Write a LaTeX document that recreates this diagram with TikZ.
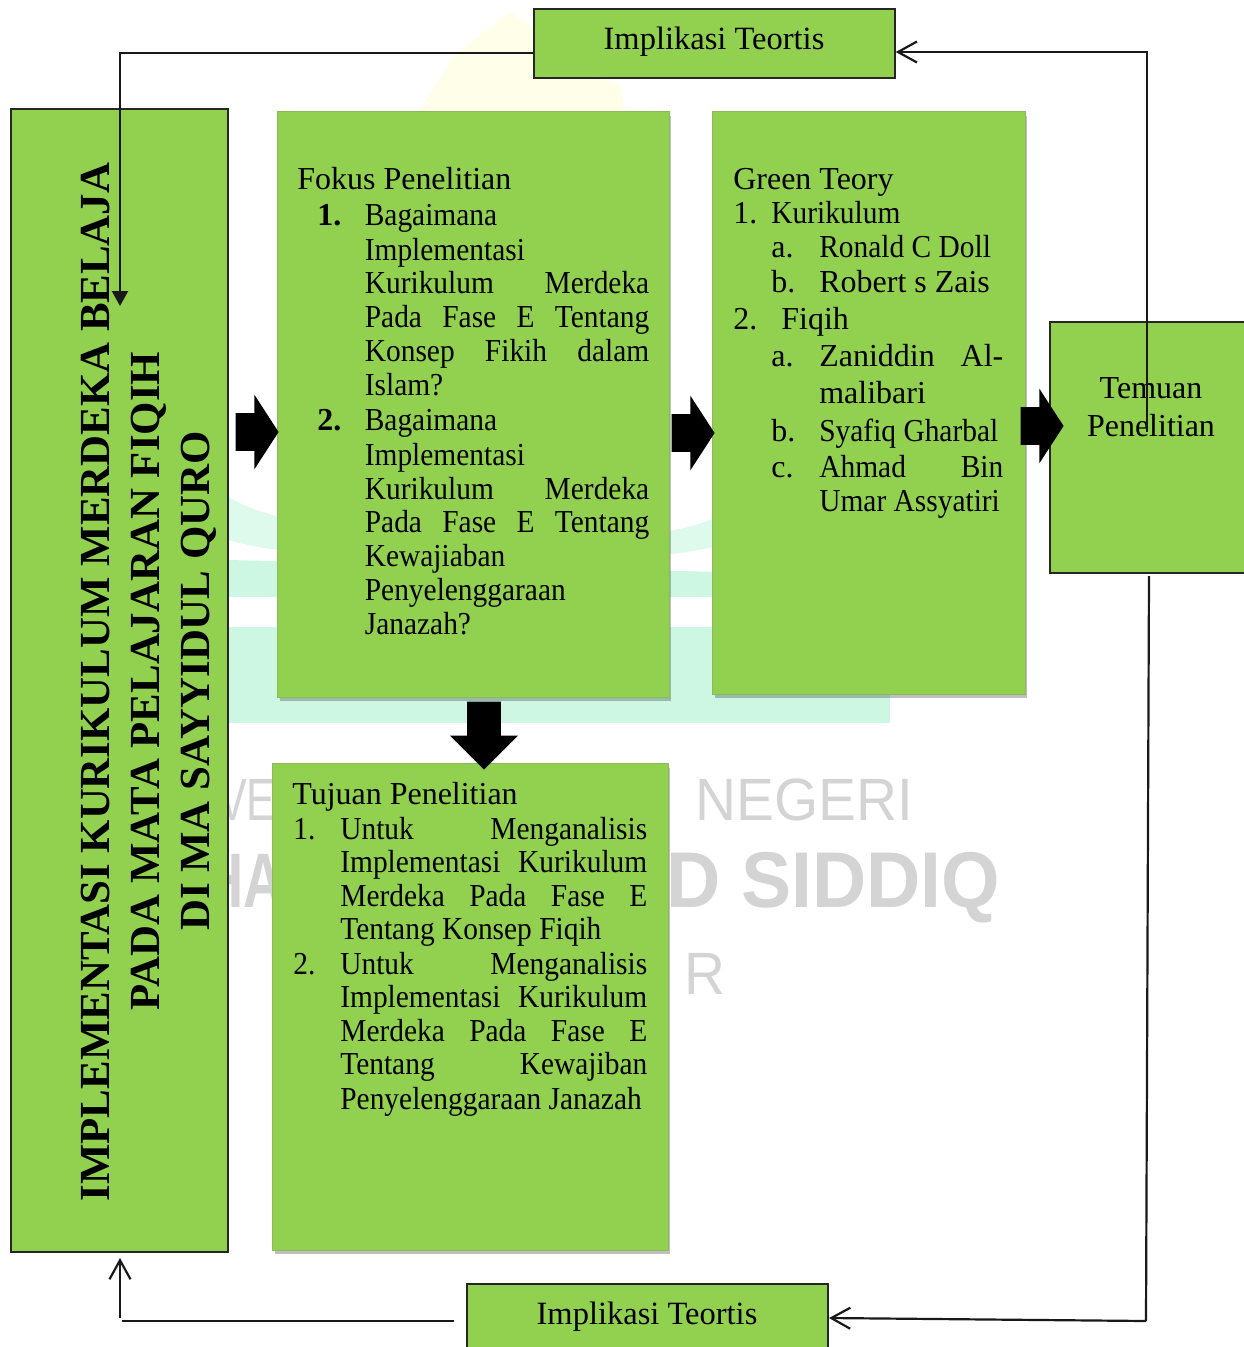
\documentclass[tikz,border=0pt]{standalone}
\usepackage{fontspec}
\setmainfont{Liberation Serif}
\newfontfamily\sempit[FakeStretch=0.92]{Liberation Serif}
\newfontfamily\wmfont[FakeStretch=0.95]{Liberation Sans}
\newfontfamily\wmsempit[FakeStretch=0.72]{Liberation Sans}
\usetikzlibrary{arrows.meta,shapes.arrows,shadows}
\definecolor{hijau}{HTML}{92D050}
\definecolor{hijautepi}{HTML}{8DB95A}
\definecolor{mint}{HTML}{CDF7E2}
\definecolor{mintmuda}{HTML}{DDFAEC}
\definecolor{kuning}{HTML}{FFFEE8}
\definecolor{abuwm}{HTML}{D4D4D4}
\newcommand{\fsize}[1]{\fontsize{#1}{#1}\selectfont}
\newcommand{\justline}[2]{\makebox[#1][s]{#2}}
\tikzset{
  kotak/.style={draw=black!85,line width=.85pt,fill=hijau,inner sep=0pt},
  kotakb/.style={draw=hijautepi,line width=.5pt,fill=hijau,inner sep=0pt,
    drop shadow={shadow xshift=.05cm,shadow yshift=-.09cm,opacity=.25,fill=black}},
  teks/.style={inner sep=0pt,anchor=base west,yshift=-.02cm,font=\fsize{18.2}},
  teksb/.style={teks,font=\sempit\fsize{18.2}},
  judul/.style={inner sep=0pt,anchor=base,font=\fsize{18.5}},
  tegak/.style={inner sep=0pt,anchor=base,rotate=90,font=\fsize{24.4}\bfseries},
  panahblok/.style={single arrow,fill=black,inner xsep=0pt,inner ysep=.37cm,anchor=tip,
    minimum height=.86cm,minimum width=1.48cm,single arrow head extend=.37cm,
    single arrow head indent=0pt,single arrow tip angle=114},
  garis/.style={line width=1.25pt,draw=black!90},
  wm/.style={inner sep=0pt,anchor=base west,text=abuwm},
  >={Straight Barb[length=.38cm,width=.42cm]}
}
\begin{document}
\begin{tikzpicture}[x=.02cm,y=-.02cm]
\useasboundingbox (0,0) rectangle (1244,1347);
% latar
\fill[kuning] (420,110) -- (455,55) -- (510,12) -- (535,30) -- (540,60) -- (620,85) -- (625,110) -- cycle;
\fill[mint] (229,627) rectangle (890,723);
\fill[mint] (229,560) -- (720,572) -- (720,597) -- (229,597) -- cycle;
\fill[mintmuda] (229,497) .. controls (300,545) and (640,560) .. (720,515) -- (720,545) .. controls (640,570) and (300,565) .. (229,540) -- cycle;
\node[wm,anchor=base east,font=\wmsempit\fsize{34}] (wmve) at (276,820) {VE};
\node[wm,font=\wmfont\fsize{34}] (wmnegeri) at (695,820) {NEGERI};
\node[wm,anchor=base east,font=\wmsempit\bfseries\fsize{44}] (wmha) at (284,907) {HA};
\node[wm,font=\wmfont\bfseries\fsize{45}] (wmsiddiq) at (666,907) {D SIDDIQ};
\node[wm,font=\wmfont\fsize{34}] (wmr) at (684,994) {R};
% kotak
\node[kotak,minimum width=4.34cm,minimum height=22.86cm] (judulkiri) at (119.5,680.5) {};
\node[kotak,minimum width=7.22cm,minimum height=1.38cm] (atas) at (714.5,43.5) {};
\node[kotakb,minimum width=7.84cm,minimum height=11.72cm] (fokus) at (473,404) {};
\node[kotakb,minimum width=6.26cm,minimum height=11.66cm] (green) at (868.5,402.5) {};
\node[kotakb,minimum width=7.92cm,minimum height=9.74cm] (tujuan) at (470,1006.5) {};
\node[kotak,minimum width=4.2cm,minimum height=5.02cm] (temuan) at (1155,447.5) {};
\node[kotak,minimum width=7.22cm,minimum height=1.52cm] (bawah) at (647.5,1322) {};
% judul tegak
\node[tegak] (tegak1) at (109,682) {IMPLEMENTASI KURIKULUM MERDEKA BELAJA};
\node[tegak] (tegak2) at (159,681) {PADA MATA PELAJARAN FIQIH};
\node[tegak] (tegak3) at (209,681) {DI MA SAYYIDUL QURO};
\node[judul] (atasteks) at (714,49) {Implikasi Teortis};
\node[judul] (bawahteks) at (647,1324) {Implikasi Teortis};
\node[judul,font=\fsize{18.2}] (temuan1) at (1151,398) {Temuan};
\node[judul,font=\fsize{18.2}] (temuan2) at (1151,436) {Penelitian};
% fokus penelitian
\node[teks] (f0) at (297,188) {Fokus Penelitian};
\node[teks] (f1n) at (317,224) {\textbf{1.}};
\node[teksb] (f1) at (364.5,224) {Bagaimana};
\node[teksb] (f2) at (364.5,259) {Implementasi};
\node[teksb] (f3) at (364.5,292) {\justline{5.69cm}{Kurikulum Merdeka}};
\node[teksb] (f4) at (364.5,326) {\justline{5.69cm}{Pada Fase E Tentang}};
\node[teksb] (f5) at (364.5,360) {\justline{5.69cm}{Konsep Fikih dalam}};
\node[teksb] (f6) at (364.5,394) {Islam?};
\node[teks] (f7n) at (317,429) {\textbf{2.}};
\node[teksb] (f7) at (364.5,429) {Bagaimana};
\node[teksb] (f8) at (364.5,464) {Implementasi};
\node[teksb] (f9) at (364.5,498) {\justline{5.69cm}{Kurikulum Merdeka}};
\node[teksb] (f10) at (364.5,531) {\justline{5.69cm}{Pada Fase E Tentang}};
\node[teksb] (f11) at (364.5,565) {Kewajiaban};
\node[teksb] (f12) at (364.5,599) {Penyelenggaraan};
\node[teksb] (f13) at (364.5,633) {Janazah?};
% green teory
\node[teks] (g0) at (733,188) {Green Teory};
\node[teks] (g1n) at (733,222) {1.};
\node[teksb] (g1) at (771,222) {Kurikulum};
\node[teks] (g2n) at (771,256) {a.};
\node[teksb] (g2) at (819,256) {Ronald C Doll};
\node[teks] (g3n) at (771,291) {b.};
\node[teks] (g3) at (819,291) {Robert s Zais};
\node[teks] (g4n) at (733,328) {2.};
\node[teks] (g4) at (781,328) {Fiqih};
\node[teks] (g5n) at (771,365) {a.};
\node[teks] (g5) at (819,365) {\justline{3.68cm}{Zaniddin Al-}};
\node[teks] (g6) at (819,402) {malibari};
\node[teks] (g7n) at (771,440) {b.};
\node[teksb] (g7) at (819,440) {Syafiq Gharbal};
\node[teks] (g8n) at (771,476) {c.};
\node[teksb] (g8) at (819,476) {\justline{3.68cm}{Ahmad Bin}};
\node[teksb] (g9) at (819,510) {Umar Assyatiri};
% tujuan penelitian
\node[teks] (t0) at (292,803) {Tujuan Penelitian};
\node[teksb] (t1n) at (293,838) {1.};
\node[teksb] (t1) at (340,838) {\justline{6.14cm}{Untuk Menganalisis}};
\node[teksb] (t2) at (340,871) {\justline{6.14cm}{Implementasi Kurikulum}};
\node[teksb] (t3) at (340,905) {\justline{6.14cm}{Merdeka Pada Fase E}};
\node[teksb] (t4) at (340,938) {Tentang Konsep Fiqih};
\node[teksb] (t5n) at (293,973) {2.};
\node[teksb] (t5) at (340,973) {\justline{6.14cm}{Untuk Menganalisis}};
\node[teksb] (t6) at (340,1006) {\justline{6.14cm}{Implementasi Kurikulum}};
\node[teksb] (t7) at (340,1040) {\justline{6.14cm}{Merdeka Pada Fase E}};
\node[teksb] (t8) at (340,1073) {\justline{6.14cm}{Tentang Kewajiban}};
\node[teksb] (t9) at (340,1108) {Penyelenggaraan Janazah};
% panah blok
\node[panahblok] (blok1) at (279,432) {};
\node[panahblok] (blok2) at (715,433) {};
\node[panahblok] (blok3) at (1064,426) {};
\node[panahblok,shape border rotate=270,inner sep=.33cm,minimum height=1.36cm,minimum width=1.34cm,single arrow head extend=.34cm,single arrow tip angle=90] (blok4) at (484,770) {};
% garis balik
\coordinate (sudutkiri) at (120,53);
\coordinate (ujungkiri) at (120,306);
\coordinate (temuanatas) at (1147,432);
\coordinate (sudutkanan) at (1147,52);
\coordinate (temuanbawah) at (1149,576);
\coordinate (sudutbawah) at (1146,1321);
\coordinate (ujungbawah) at (829,1318);
\coordinate (bawahkiri) at (454,1321);
\coordinate (sudutbawahkiri) at (122,1321);
\coordinate (pangkalnaik) at (120,1318);
\coordinate (ujungnaik) at (120,1258);
\draw[garis,-{Triangle[length=.3cm,width=.32cm]}] (atas.west |- sudutkiri) -- (sudutkiri) -- (ujungkiri);
\draw[garis,->] (temuanatas) -- (sudutkanan) -- (atas.east |- sudutkanan);
\draw[garis] (temuanbawah) -- (sudutbawah);
\draw[garis,->] (sudutbawah) -- (ujungbawah);
\draw[garis] (bawahkiri) -- (sudutbawahkiri);
\draw[garis,->] (pangkalnaik) -- (ujungnaik);
\end{tikzpicture}
\end{document}
